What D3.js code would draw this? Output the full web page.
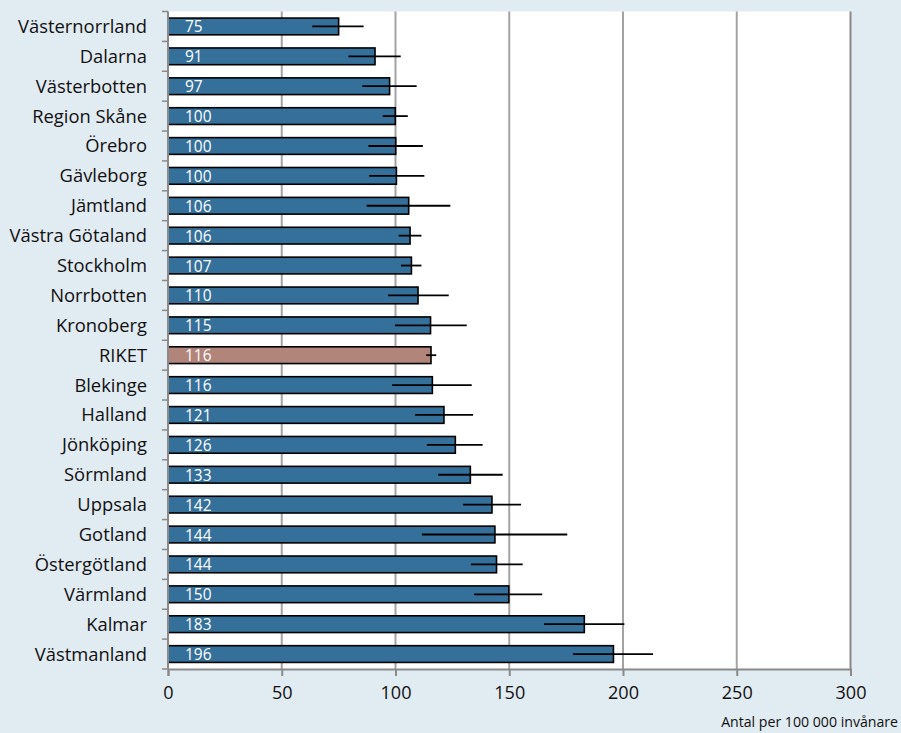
<!DOCTYPE html>
<html><head><meta charset="utf-8">
<script src="https://cdn.jsdelivr.net/npm/d3@7"></script>
<style>
html,body{margin:0;padding:0;background:#e1ebf2;}
svg{display:block;font-family:"Open Sans",sans-serif;}
</style></head>
<body>
<svg id="c" width="901" height="733"></svg>
<script>
const categories = ["Västernorrland","Dalarna","Västerbotten","Region Skåne","Örebro","Gävleborg","Jämtland","Västra Götaland","Stockholm","Norrbotten","Kronoberg","RIKET","Blekinge","Halland","Jönköping","Sörmland","Uppsala","Gotland","Östergötland","Värmland","Kalmar","Västmanland"];
const values = [75, 91, 97.4, 99.9, 100.1, 100.4, 105.8, 106.4, 107, 109.9, 115.4, 115.6, 116.2, 121.3, 126.3, 132.9, 142.4, 143.7, 144.4, 149.8, 183, 195.8];
const lower = [63.4, 79.3, 85.4, 94.4, 88.1, 88.4, 87.3, 101.4, 102.4, 96.7, 99.8, 113.5, 98.5, 108.6, 113.8, 118.8, 129.7, 111.6, 133.2, 134.6, 165.3, 178];
const upper = [86.0, 102.3, 109.3, 105.4, 112.0, 112.7, 124.1, 111.4, 111.4, 123.4, 131.3, 117.9, 133.5, 134.1, 138.3, 147.1, 155.2, 175.5, 155.9, 164.5, 200.6, 213.2];
const xTicks = [0, 50, 100, 150, 200, 250, 300];
const axisTitle = "Antal per 100 000 invånare";
const highlight = "RIKET";

const svg = d3.select("#c");
const L = 168, R = 850.5, T = 11.5, B = 669;
const x = d3.scaleLinear().domain([0, 300]).range([L, R]);
const y = d3.scaleBand().domain(categories).range([T, B]).paddingInner(0.44).paddingOuter(0.22);

// font size fitting a reference string to a target width
function fit(str, target) {
  const t = svg.append("text").attr("font-size", 20).text(str);
  const w = t.node().getComputedTextLength();
  t.remove();
  return 20 * target / w;
}
const fsCat = fit("Västernorrland", 129);
const fsTick = fit("100", 31);
const fsVal = fit("100", 26.5);
const fsTitle = fit(axisTitle, 177);

svg.append("rect").attr("width", 901).attr("height", 733).attr("fill", "#e1ebf2");
svg.append("rect").attr("x", L).attr("y", T).attr("width", R - L).attr("height", B - T).attr("fill", "#ffffff");

// gridlines
svg.append("g").selectAll("line").data(xTicks.filter(d => d > 0)).join("line")
  .attr("x1", d => x(d)).attr("x2", d => x(d)).attr("y1", T).attr("y2", B)
  .attr("stroke", d => d === 300 ? "#8a8a8a" : "#a3a3a3").attr("stroke-width", 2);

// bars
svg.append("g").selectAll("rect").data(categories).join("rect")
  .attr("x", x(0)).attr("y", d => y(d))
  .attr("width", (d, i) => x(values[i]) - x(0)).attr("height", y.bandwidth())
  .attr("fill", d => d === highlight ? "#b2857b" : "#35709b")
  .attr("stroke", "#000").attr("stroke-width", 1.6);

// value labels
svg.append("g").selectAll("text").data(categories).join("text")
  .attr("x", x(0) + 17).attr("y", d => y(d) + y.bandwidth() / 2 + 6)
  .attr("fill", "#fff").attr("font-size", fsVal)
  .text((d, i) => Math.round(values[i]));

// error bars
svg.append("g").selectAll("line").data(categories).join("line")
  .attr("x1", (d, i) => x(lower[i])).attr("x2", (d, i) => x(upper[i]))
  .attr("y1", d => y(d) + y.bandwidth() / 2).attr("y2", d => y(d) + y.bandwidth() / 2)
  .attr("stroke", "#000").attr("stroke-width", 1.8);

// axes
const ax = svg.append("g").attr("transform", `translate(0,${B})`)
  .call(d3.axisBottom(x).tickValues(xTicks).tickSize(7).tickPadding(10).tickFormat(d3.format("d")));
ax.select(".domain").attr("stroke", "#8a8a8a").attr("stroke-width", 2);
ax.selectAll(".tick line").attr("stroke", "#8a8a8a").attr("stroke-width", 2);
ax.selectAll(".tick text").attr("font-size", fsTick).attr("fill", "#111").attr("font-family", "Open Sans");

const ay = svg.append("g");
ay.append("line").attr("x1", L).attr("x2", L).attr("y1", T).attr("y2", B).attr("stroke", "#8a8a8a").attr("stroke-width", 2);
const bounds = categories.map(c => y(c) - y.step() * 0.22).concat([B]);
ay.selectAll("line.t").data(bounds).join("line").attr("class", "t")
  .attr("x1", L - 6).attr("x2", L).attr("y1", d => d).attr("y2", d => d)
  .attr("stroke", "#8a8a8a").attr("stroke-width", 1.5);
ay.selectAll("text").data(categories).join("text")
  .attr("x", 147).attr("y", d => y(d) + y.bandwidth() / 2 + 6.5)
  .attr("text-anchor", "end").attr("font-size", fsCat).attr("fill", "#111")
  .text(d => d);

svg.append("text").attr("x", 898).attr("y", 727).attr("text-anchor", "end")
  .attr("font-size", fsTitle).attr("fill", "#111").text(axisTitle);
</script>
</body></html>
